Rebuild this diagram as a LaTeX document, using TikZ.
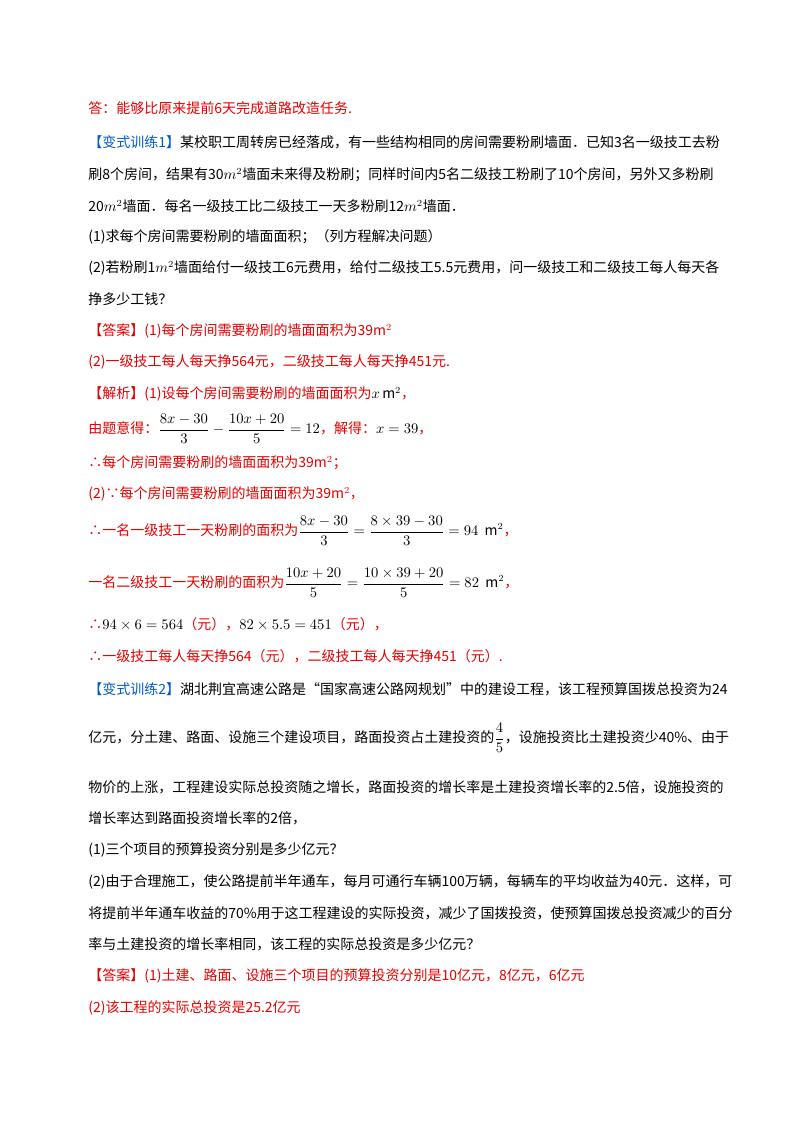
\documentclass[tikz,border=0pt]{standalone}
\usepackage{fontspec}
\setmainfont{Noto Sans CJK SC}
\definecolor{rd}{RGB}{230,0,0}
\definecolor{bl}{RGB}{0,90,200}
\begin{document}
\begin{tikzpicture}[x=0.75pt,y=-0.75pt,
 t/.style={anchor=west,inner sep=0pt,font=\fontsize{10.5pt}{12pt}\selectfont},
 j/.style={t,text width=468pt,align=justify,execute at begin node={\parfillskip=0pt\relax}},
 r/.style={t,text=rd}]
\useasboundingbox (0,0) rectangle (800,1132);
\node[r] (a0) at (88,108) {答：能够比原来提前6天完成道路改造任务.};
\node[j] (a1) at (88,142) {\textcolor{bl}{【变式训练1】}某校职工周转房已经落成，有一些结构相同的房间需要粉刷墙面．已知3名一级技工去粉};
\node[j] (a2) at (88,175) {刷8个房间，结果有30$m^2$墙面未来得及粉刷；同样时间内5名二级技工粉刷了10个房间，另外又多粉刷};
\node[t] (a3) at (88,206) {20$m^2$墙面．每名一级技工比二级技工一天多粉刷12$m^2$墙面．};
\node[t] (a4) at (88,237) {(1)求每个房间需要粉刷的墙面面积；（列方程解决问题）};
\node[j] (a5) at (88,268) {(2)若粉刷1$m^2$墙面给付一级技工6元费用，给付二级技工5.5元费用，问一级技工和二级技工每人每天各};
\node[t] (a6) at (88,299) {挣多少工钱？};
\node[r] (a7) at (88,331) {【答案】(1)每个房间需要粉刷的墙面面积为39$\mathrm{m}^2$};
\node[r] (a8) at (88,362) {(2)一级技工每人每天挣564元，二级技工每人每天挣451元.};
\node[r] (a9) at (88,394) {【解析】(1)设每个房间需要粉刷的墙面面积为\textcolor{black}{$x\,\mathrm{m}^2$}，};
\node[r] (a10) at (88,429) {由题意得：\textcolor{black}{$\displaystyle\frac{8x-30}{3}-\frac{10x+20}{5}=12$}，解得：\textcolor{black}{$x=39$}，};
\node[r] (a11) at (88,463) {∴每个房间需要粉刷的墙面面积为39$\mathrm{m}^2$；};
\node[r] (a12) at (88,494) {(2)∵每个房间需要粉刷的墙面面积为39$\mathrm{m}^2$，};
\node[r] (a13) at (88,531) {∴一名一级技工一天粉刷的面积为\textcolor{black}{$\displaystyle\frac{8x-30}{3}=\frac{8\times39-30}{3}=94\ \ \mathrm{m}^2$}，};
\node[r] (a14) at (88,583) {一名二级技工一天粉刷的面积为\textcolor{black}{$\displaystyle\frac{10x+20}{5}=\frac{10\times39+20}{5}=82\ \ \mathrm{m}^2$}，};
\node[r] (a15) at (88,624) {∴\textcolor{black}{$94\times6=564$}（元），\textcolor{black}{$82\times5.5=451$}（元），};
\node[r] (a16) at (88,656) {∴一级技工每人每天挣564（元），二级技工每人每天挣451（元）.};
\node[j] (b1) at (88,689) {\textcolor{bl}{【变式训练2】}湖北荆宜高速公路是“国家高速公路网规划”中的建设工程，该工程预算国拨总投资为24};
\node[j] (b2) at (88,738) {亿元，分土建、路面、设施三个建设项目，路面投资占土建投资的$\displaystyle\frac{4}{5}$，设施投资比土建投资少40\%、由于};
\node[j] (b3) at (88,787) {物价的上涨，工程建设实际总投资随之增长，路面投资的增长率是土建投资增长率的2.5倍，设施投资的};
\node[t] (b4) at (88,818) {增长率达到路面投资增长率的2倍，};
\node[t] (b5) at (88,850) {(1)三个项目的预算投资分别是多少亿元？};
\node[j] (b6) at (88,882) {(2)由于合理施工，使公路提前半年通车，每月可通行车辆100万辆，每辆车的平均收益为40元．这样，可};
\node[j] (b7) at (88,913) {将提前半年通车收益的70\%用于这工程建设的实际投资，减少了国拨投资，使预算国拨总投资减少的百分};
\node[t] (b8) at (88,944) {率与土建投资的增长率相同，该工程的实际总投资是多少亿元？};
\node[r] (b9) at (88,976) {【答案】(1)土建、路面、设施三个项目的预算投资分别是10亿元，8亿元，6亿元};
\node[r] (b10) at (88,1008) {(2)该工程的实际总投资是25.2亿元};
\end{tikzpicture}
\end{document}
